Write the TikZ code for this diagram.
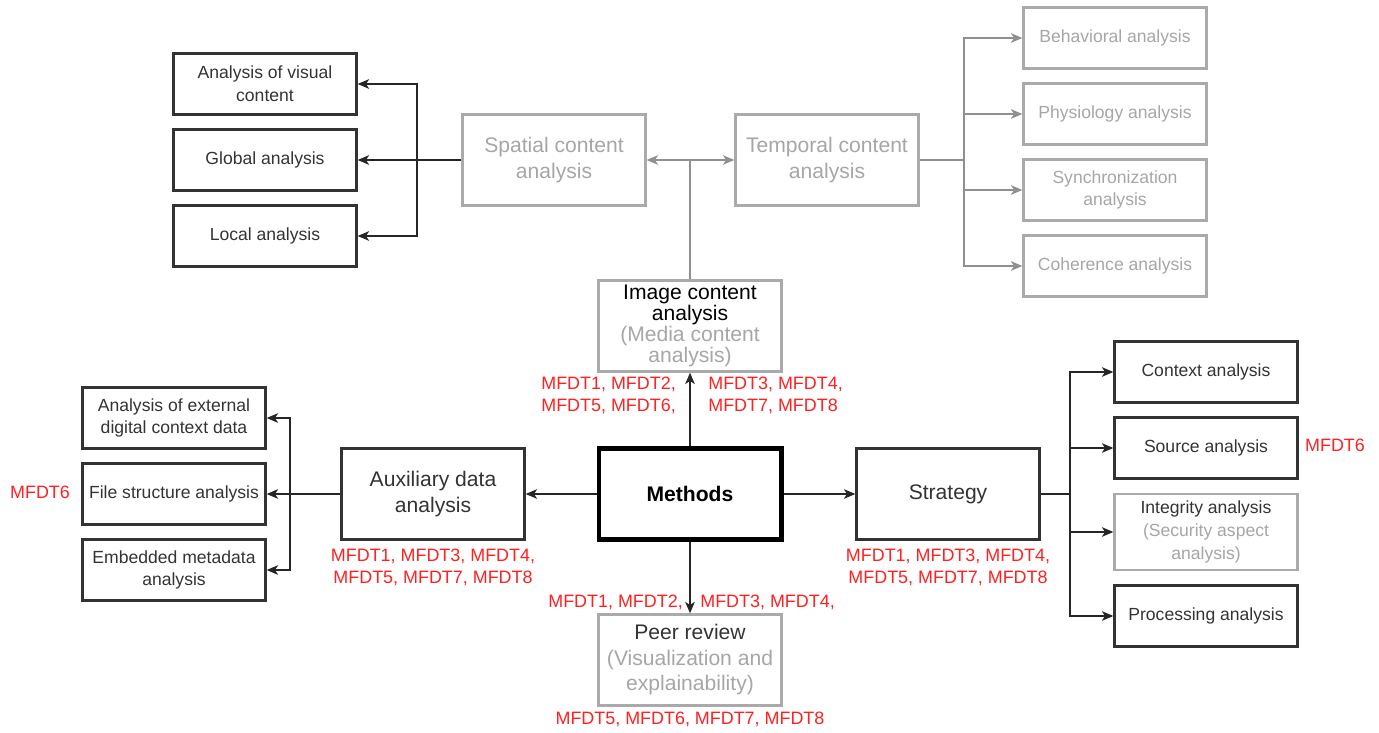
\documentclass[tikz,border=0pt]{standalone}
\usepackage{fontspec}
\setmainfont{Liberation Sans}
\usetikzlibrary{arrows.meta}
\definecolor{dtxt}{HTML}{333333}
\definecolor{gtxt}{HTML}{A6A6A6}
\definecolor{gline}{HTML}{AAAAAA}
\definecolor{mred}{HTML}{FF2020}
\tikzset{
  bbox/.style={draw=dtxt, line width=1.4pt, text=dtxt, align=center, inner sep=0pt,
    minimum width=3.66cm, minimum height=1.22cm, font=\fontsize{10}{13}\selectfont},
  gbox/.style={bbox, draw=gline, text=gtxt},
  big/.style={minimum height=1.82cm, font=\fontsize{12}{14.5}\selectfont},
  conn/.style={draw=black!85, line width=0.6pt},
  arr/.style={conn, -{Stealth[length=6.5pt,width=5.5pt,inset=1.8pt]}},
  gconn/.style={draw=gline!85!black, line width=0.6pt},
  garr/.style={gconn, -{Stealth[length=6.5pt,width=5.5pt,inset=1.8pt]}},
  lbl/.style={text=mred, align=left, inner sep=0pt, font=\fontsize{10.2}{12.5}\selectfont}
}
\begin{document}
\begin{tikzpicture}[x=0.02cm, y=-0.02cm]
\useasboundingbox (0,0) rectangle (1379,733);
% centre
\node[bbox, big, line width=2.3pt, draw=black, text=black, font=\fontsize{12}{14.5}\selectfont\bfseries] (methods) at (690,494) {Methods};
\node[gbox, big, font=\fontsize{12}{12}\selectfont, text=black] (image) at (690,326) {Image content\\analysis\\\textcolor{gtxt}{(Media content}\\\textcolor{gtxt}{analysis)}};
\node[bbox, big] (aux) at (433,494) {Auxiliary data\\analysis};
\node[bbox, big] (strategy) at (948,494) {Strategy};
\node[gbox, big, text=dtxt] (peer) at (690,660) {Peer review\\\textcolor{gtxt}{(Visualization and}\\\textcolor{gtxt}{explainability)}};
% top
\node[gbox, big] (spatial) at (554,160) {Spatial content\\analysis};
\node[gbox, big] (temporal) at (827,160) {Temporal content\\analysis};
\node[bbox] (visual) at (265,84) {Analysis of visual\\content};
\node[bbox] (global) at (265,160) {Global analysis};
\node[bbox] (local) at (265,236) {Local analysis};
\node[gbox] (behav) at (1115,38) {Behavioral analysis};
\node[gbox] (physio) at (1115,114) {Physiology analysis};
\node[gbox] (sync) at (1115,190) {Synchronization\\analysis};
\node[gbox] (coher) at (1115,266) {Coherence analysis};
% left
\node[bbox] (extern) at (174,418) {Analysis of external\\digital context data};
\node[bbox] (filestr) at (174,494) {File structure analysis};
\node[bbox] (embed) at (174,570) {Embedded metadata\\analysis};
% right
\node[bbox] (context) at (1206,372) {Context analysis};
\node[bbox] (source) at (1206,448) {Source analysis};
\node[gbox, minimum height=1.52cm, text=dtxt] (integ) at (1206,532) {Integrity analysis\\\textcolor{gtxt}{(Security aspect}\\\textcolor{gtxt}{analysis)}};
\node[bbox] (process) at (1206,616) {Processing analysis};
% red labels
\node[lbl, anchor=west] (imgl) at (541,395) {MFDT1, MFDT2,\\MFDT5, MFDT6,};
\node[lbl, anchor=west] (imgr) at (708,395) {MFDT3, MFDT4,\\MFDT7, MFDT8};
\node[lbl, align=center] (auxl) at (433,567) {MFDT1, MFDT3, MFDT4,\\MFDT5, MFDT7, MFDT8};
\node[lbl, align=center] (stratl) at (948,567) {MFDT1, MFDT3, MFDT4,\\MFDT5, MFDT7, MFDT8};
\node[lbl, anchor=west] (peerl) at (548,602) {MFDT1, MFDT2,};
\node[lbl, anchor=west] (peerr) at (700,602) {MFDT3, MFDT4,};
\node[lbl, align=center] (peerb) at (690,719) {MFDT5, MFDT6, MFDT7, MFDT8};
\node[lbl] (filel) at (40,492) {MFDT6};
\node[lbl] (sourcel) at (1335,445) {MFDT6};
% bus points
\coordinate (sj) at (690,160);
\coordinate (lb) at (417,160);
\coordinate (tb) at (964,160);
\coordinate (ab) at (290,494);
\coordinate (sb) at (1070,494);
% methods
\draw[arr] (methods) -- (image);
\draw[arr] (methods) -- (aux);
\draw[arr] (methods) -- (strategy);
\draw[arr] (methods) -- (peer);
% image content
\draw[gconn] (image) -- (sj);
\draw[garr] (sj) -- (spatial);
\draw[garr] (sj) -- (temporal);
\draw[conn] (spatial) -- (lb);
\draw[arr] (lb) |- (visual);
\draw[arr] (lb) -- (global);
\draw[arr] (lb) |- (local);
\draw[gconn] (temporal) -- (tb);
\draw[garr] (tb) |- (behav);
\draw[garr] (tb) |- (physio);
\draw[garr] (tb) |- (sync);
\draw[garr] (tb) |- (coher);
% auxiliary
\draw[conn] (aux) -- (ab);
\draw[arr] (ab) |- (extern);
\draw[arr] (ab) -- (filestr);
\draw[arr] (ab) |- (embed);
% strategy
\draw[conn] (strategy) -- (sb);
\draw[arr] (sb) |- (context);
\draw[arr] (sb) |- (source);
\draw[arr] (sb) |- (integ);
\draw[arr] (sb) |- (process);
\end{tikzpicture}
\end{document}
